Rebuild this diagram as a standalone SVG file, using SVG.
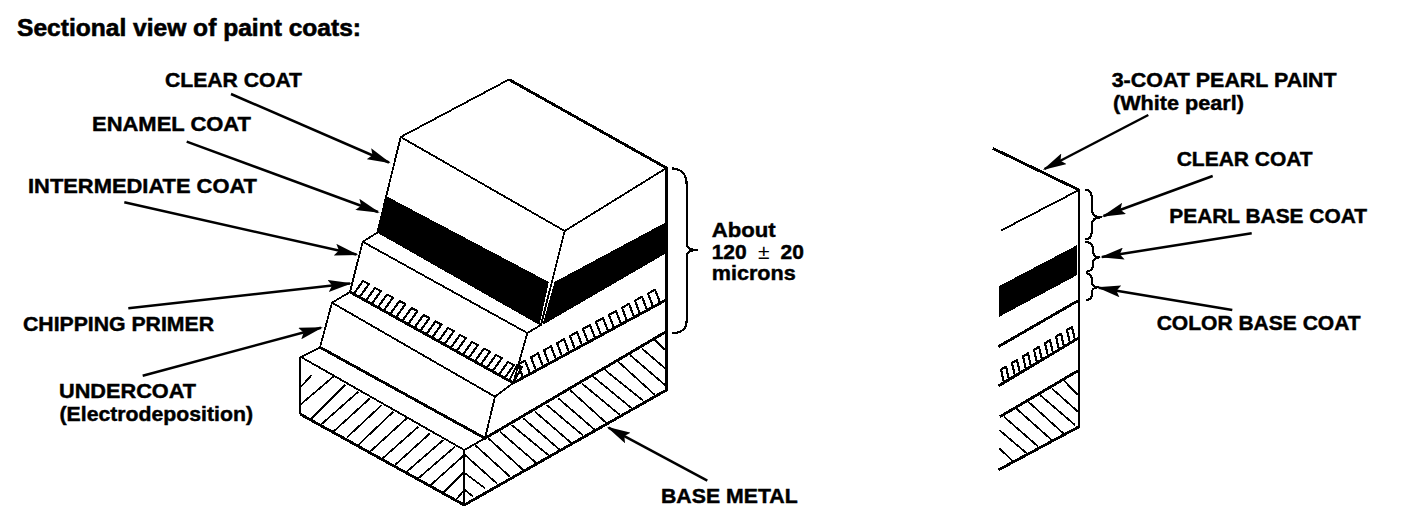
<svg xmlns="http://www.w3.org/2000/svg" width="1408" height="520" viewBox="0 0 1408 520">
<style>
text{font-family:"Liberation Sans",Arial,sans-serif;font-weight:bold;font-size:21px;fill:#000;stroke:#000;stroke-width:.45}
.title{font-size:24px;stroke-width:.6}
.thin,.thick,.hatch,.prim,.conn,.brace{fill:none;stroke:#000;stroke-linejoin:round}
.thin{stroke-width:1.8}
.thick{stroke-width:2.8}
.hatch{stroke-width:1.7}
.prim{stroke-width:2.1}
.brace{stroke-width:2.2}
.conn{stroke-width:2.5;marker-end:url(#head)}
.fill{fill:#000;stroke:none}
.art{shape-rendering:crispEdges}
</style>
<defs>
<marker id="head" markerUnits="userSpaceOnUse" markerWidth="24" markerHeight="12" viewBox="0 0 24 12" refX="22" refY="6" orient="auto">
<path d="M0 0L24 6L0 12L4 6Z" fill="#000"/>
</marker>
</defs>
<rect width="1408" height="520" fill="#fff"/>
<g id="block-section" class="art">
<path class="fill" d="M386 196L548.800 282L539.500 325L377.300 232.700Z"/>
<path class="fill" d="M554.500 282L666.500 222V253L542.500 325Z"/>
<path class="thick" d="M509 79.500L666.500 168V390L464.300 505L300 414"/>
<path class="thin" d="M300 414V357"/>
<path class="thin" d="M509 79.500L400.700 137L564.700 231L666.500 168"/>
<path class="thin" d="M400.700 137L377.300 232.700L362.700 241.700L527.300 333L541 325L564.700 231"/>
<path class="thin" d="M362.700 241.700L350 292L332 302.700L495 396.700L513.300 383L527.300 333"/>
<path class="thick" d="M350 292L513.300 383L666 300"/>
<path class="thin" d="M332 302.700L320 347.300L301 357L464.300 450L485 438.300L495 396.700"/>
<path class="thick" d="M320 347.300L485 438.300L666 331.700"/>
<path class="thin" d="M464.300 450V505"/>
<path class="prim" d="M353 295l10 -14l6 3l-10 14M365 302l10 -14l6 3l-10 14M377 308.500l10 -14l6 3l-10 14M389.500 315l10 -14l6 3l-10 14M401.500 322l10 -14l6 3l-10 14M413.500 329l10 -14l6 3l-10 14M425.500 335.500l10 -14l6 3l-10 14M438 342l10 -14l6 3l-10 14M450 349l10 -14l6 3l-10 14M462 356l10 -14l6 3l-10 14M474 362.500l10 -14l6 3l-10 14M486 369l10 -14l6 3l-10 14M498 376l10 -14l6 3l-10 14M509 381l8 -16l5 2l-9 16"/>
<path class="prim" d="M523 377.500l-5 -13l7 -4l5 13M536 370.400l-5 -13l7 -4l5 13M549 363.300l-5 -13l7 -4l5 13M562 356.200l-5 -13l7 -4l5 13M575 349.100l-5 -13l7 -4l5 13M588 342l-5 -13l7 -4l5 13M601 335l-5 -13l7 -4l5 13M614 327.900l-5 -13l7 -4l5 13M627 320.800l-5 -13l7 -4l5 13M640 313.700l-5 -13l7 -4l5 13M653 306.600l-5 -13l7 -4l5 13"/>
<path class="hatch" d="M300 387.700L311.700 375M300 405L333.300 376.700M310 420L345 385M321.700 424L358.300 391.700M333.300 431.700L370 398.300M346.700 437.700L381.700 405M358.300 445L393.300 411.700M370 451.700L406.700 418.300M382.700 458.300L418.300 426.700M395 465L430 433.300M406.700 471.700L443.300 440M418.300 478.300L455 446.700M430.700 485L464.300 455M443.300 492.700L464.300 471.700M455.700 500L464.300 490"/>
<path class="hatch" d="M465 490L473.300 496.700M465 473.300L485 488.300M465 455L496.700 483.300M475 445L510 476.700M488.300 438.300L523.300 470M500 431.700L536.700 463.300M511.700 425L548.300 455M523.300 418.300L560 450M535 411.700L571.700 443.300M546.700 405L583.300 435.700M558.300 398.300L595 430M570 390L606.700 423.300M581.700 383.300L620 415M593.300 376.700L631.700 408.300M605 370L643.300 400.700M618.300 361.700L655 395M630 355L665 385M641.700 348.300L665 368.300M655 340L665 350"/>
<path class="brace" d="M671.700 168.300C682 169 686.700 174 686.700 185V243C686.700 247 690 250 696.700 250C690 250 686.700 253 686.700 257V320C686.700 329 682 333 671.700 333.300"/>
</g>
<g id="side-section" class="art">
<path class="thick" d="M992.700 148.300L1079 190V426.700L998.300 470"/>
<path class="thin" d="M1079 190L1000.700 230.700"/>
<path class="fill" d="M1077.300 245L999.300 286V316.700L1077.300 275Z"/>
<path class="thick" d="M1078 300.700L998.300 346.700M1078 338.300L998.300 386M1078 370.700L1000 416.700"/>
<path class="prim" d="M1004 382.600l-3 -13l5 -3l3 13M1015 376l-3 -13l5 -3l3 13M1026 369.400l-3 -13l5 -3l3 13M1037 362.800l-3 -13l5 -3l3 13M1048 356.200l-3 -13l5 -3l3 13M1059 349.600l-3 -13l5 -3l3 13M1070 343l-3 -13l5 -3l3 13"/>
<path class="hatch" d="M1063.300 380L1078 395M1051.700 388.300L1078 411.700M1040 395L1075 425M1028.300 401.700L1063.300 433.300M1016 408.300L1051.700 440M1004 416.700L1038.300 446.700M999.300 430L1026.700 453.300M999.300 448.300L1013.300 461.700"/>
<path class="brace" d="M1085 190C1089 190 1091.700 192 1091.700 197V208C1091.700 214 1095 217.300 1100.700 217.300C1095 217.300 1091.700 220 1091.700 226V232C1091.700 237 1089 239.300 1085 239.300"/>
<path class="brace" d="M1085 241.700C1090 242 1093 245 1093 250V251C1093 255 1095 257.300 1099.300 257.300C1095 257.300 1093 260 1093 264V265C1093 269 1090 271.700 1086 271.700"/>
<path class="brace" d="M1086 273.300C1090 273.500 1091.700 276 1091.700 279V282C1091.700 285 1094 287.300 1098 287.300C1094 287.300 1091.700 290 1091.700 293V295C1091.700 298 1090 300 1086 300"/>
</g>
<g id="connectors">
<line class="conn" x1="231" y1="94" x2="389" y2="162.500"/>
<line class="conn" x1="186.700" y1="141.700" x2="378" y2="212"/>
<line class="conn" x1="124.300" y1="202.300" x2="356.500" y2="254.500"/>
<line class="conn" x1="128.300" y1="308.300" x2="350" y2="283.500"/>
<line class="conn" x1="142.700" y1="375.700" x2="321" y2="327.800"/>
<line class="conn" x1="707.300" y1="480.700" x2="608.500" y2="427.600"/>
<line class="conn" x1="1148.300" y1="115" x2="1044.500" y2="169"/>
<line class="conn" x1="1212.700" y1="176" x2="1103.500" y2="216"/>
<line class="conn" x1="1251.700" y1="233.300" x2="1102" y2="257"/>
<line class="conn" x1="1232.300" y1="310" x2="1098.700" y2="287.700"/>
</g>
<g id="label-title"><text class="title" x="17" y="36" textLength="344" lengthAdjust="spacingAndGlyphs">Sectional view of paint coats:</text></g>
<g id="label-clear-coat"><text x="165" y="86.500" textLength="137" lengthAdjust="spacingAndGlyphs">CLEAR COAT</text></g>
<g id="label-enamel-coat"><text x="92" y="130.500" textLength="159" lengthAdjust="spacingAndGlyphs">ENAMEL COAT</text></g>
<g id="label-intermediate-coat"><text x="28" y="192.700" textLength="229" lengthAdjust="spacingAndGlyphs">INTERMEDIATE COAT</text></g>
<g id="label-chipping-primer"><text x="23" y="331" textLength="191" lengthAdjust="spacingAndGlyphs">CHIPPING PRIMER</text></g>
<g id="label-undercoat"><text x="59" y="398.300" textLength="137" lengthAdjust="spacingAndGlyphs">UNDERCOAT</text><text x="59.500" y="420.500" textLength="193.500" lengthAdjust="spacingAndGlyphs">(Electrodeposition)</text></g>
<g id="label-thickness"><text x="711.700" y="236.500" textLength="64" lengthAdjust="spacingAndGlyphs">About</text><text y="259.300"><tspan x="711.700">120</tspan> <tspan x="758" font-weight="normal" stroke-width="0">±</tspan> <tspan x="780.500">20</tspan></text><text x="711.700" y="280" textLength="84" lengthAdjust="spacingAndGlyphs">microns</text></g>
<g id="label-base-metal"><text x="661" y="502.700" textLength="136.700" lengthAdjust="spacingAndGlyphs">BASE METAL</text></g>
<g id="label-3-coat"><text x="1111.700" y="86.700" textLength="225" lengthAdjust="spacingAndGlyphs">3-COAT PEARL PAINT</text><text x="1113" y="109.500" textLength="131" lengthAdjust="spacingAndGlyphs">(White pearl)</text></g>
<g id="label-clear-coat-2"><text x="1176.700" y="166" textLength="136" lengthAdjust="spacingAndGlyphs">CLEAR COAT</text></g>
<g id="label-pearl-base-coat"><text x="1169.300" y="223.300" textLength="197.700" lengthAdjust="spacingAndGlyphs">PEARL BASE COAT</text></g>
<g id="label-color-base-coat"><text x="1156.700" y="330" textLength="204" lengthAdjust="spacingAndGlyphs">COLOR BASE COAT</text></g>
</svg>
